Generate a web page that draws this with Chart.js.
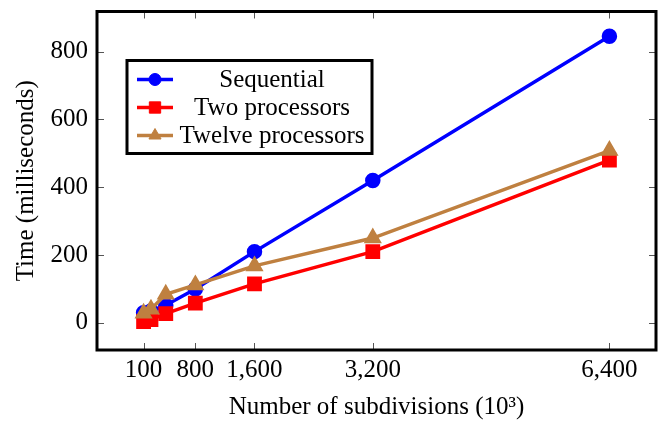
<!DOCTYPE html>
<html>
<head>
<meta charset="utf-8">
<script src="https://cdn.jsdelivr.net/npm/chart.js@4/dist/chart.umd.min.js"></script>
<style>
  html, body { margin: 0; padding: 0; background: #fff; }
</style>
</head>
<body>
<canvas id="chart" width="668" height="421"></canvas>
<script>
const subdivisions = [100, 200, 400, 800, 1600, 3200, 6400];
const sequential = [30, 35, 52, 100, 210, 420, 845];
const twoProcessors = [4, 10, 27, 58, 115, 210, 480];
const twelveProcessors = [28, 40, 84, 112, 168, 250, 508];
const xTicks = [100, 800, 1600, 3200, 6400];
const yTicks = [0, 200, 400, 600, 800];

const FONT = "'Liberation Serif', 'Times New Roman', serif";
const SIZE = 25;

function pairs(ys) {
  return subdivisions.map((x, i) => ({ x: x, y: ys[i] }));
}

// ------------------ PLUGINS ------------------
// pgfplots-style frame with small inward ticks on all four sides
const framePlugin = {
  id: "frame",
  afterDatasetsDraw(chart) {
    const { ctx, chartArea: a, scales } = chart;
    ctx.save();
    ctx.strokeStyle = "#555";
    ctx.lineWidth = 1;
    ctx.beginPath();
    yTicks.forEach(v => {
      const y = Math.round(scales.y.getPixelForValue(v)) + 0.5;
      ctx.moveTo(a.left, y); ctx.lineTo(a.left + 7, y);
      ctx.moveTo(a.right - 7, y); ctx.lineTo(a.right, y);
    });
    xTicks.forEach(v => {
      const x = Math.round(scales.x.getPixelForValue(v)) + 0.5;
      ctx.moveTo(x, a.bottom); ctx.lineTo(x, a.bottom - 7);
      ctx.moveTo(x, a.top); ctx.lineTo(x, a.top + 7);
    });
    ctx.stroke();
    ctx.strokeStyle = "#000";
    ctx.lineWidth = 3;
    ctx.strokeRect(a.left, a.top, a.right - a.left, a.bottom - a.top);
    ctx.restore();
  }
};

// legend box drawn inside the plot, top-left
const boxLegend = {
  id: "boxLegend",
  afterDraw(chart) {
    const { ctx, chartArea: a } = chart;
    const bx = a.left + 30, by = a.top + 49, bw = 245, bh = 93;
    ctx.save();
    ctx.fillStyle = "#fff";
    ctx.fillRect(bx, by, bw, bh);
    ctx.strokeStyle = "#000";
    ctx.lineWidth = 3;
    ctx.strokeRect(bx, by, bw, bh);
    chart.data.datasets.forEach((ds, i) => {
      const y = by + 19 + i * 28;
      ctx.strokeStyle = ds.borderColor;
      ctx.fillStyle = ds.borderColor;
      ctx.lineWidth = ds.borderWidth;
      ctx.beginPath();
      ctx.moveTo(bx + 10, y); ctx.lineTo(bx + 46, y);
      ctx.stroke();
      ctx.lineWidth = 1;
      Chart.helpers.drawPoint(ctx, { pointStyle: ds.pointStyle, radius: ds.pointRadius, borderWidth: 1, rotation: 0 }, bx + 28, y);
      ctx.fillStyle = "#000";
      ctx.font = SIZE + "px " + FONT;
      ctx.textAlign = "center";
      ctx.textBaseline = "middle";
      ctx.fillText(ds.label, bx + 145, y + 1);
    });
    ctx.restore();
  }
};

// ------------------ CHART ------------------
new Chart(document.getElementById("chart"), {
  type: "line",
  data: {
    datasets: [
      { label: "Sequential", data: pairs(sequential), borderColor: "#0000ff", backgroundColor: "#0000ff",
        borderWidth: 3.5, pointStyle: "circle", pointRadius: 6, order: 3 },
      { label: "Two processors", data: pairs(twoProcessors), borderColor: "#ff0000", backgroundColor: "#ff0000",
        borderWidth: 3.5, pointStyle: "rect", pointRadius: 8, order: 2 },
      { label: "Twelve processors", data: pairs(twelveProcessors), borderColor: "#bf8040", backgroundColor: "#bf8040",
        borderWidth: 3.5, pointStyle: "triangle", pointRadius: 7, order: 1 }
    ]
  },
  options: {
    responsive: false,
    animation: false,
    devicePixelRatio: 1,
    layout: { padding: { top: 11, right: 12, left: 0, bottom: 0 } },
    elements: {
      line: { tension: 0 },
      point: { borderWidth: 1, hoverRadius: 6 }
    },
    plugins: { legend: { display: false }, tooltip: { enabled: false } },
    scales: {
      x: {
        type: "linear", min: -530, max: 7030,
        afterBuildTicks: s => { s.ticks = xTicks.map(v => ({ value: v })); },
        afterFit: s => { s.height = 71; s.paddingLeft = 0; s.paddingRight = 0; },
        grid: { display: false, drawTicks: false },
        border: { display: false },
        ticks: { padding: 5, color: "#000", font: { family: FONT, size: SIZE }, maxRotation: 0,
                 callback: v => v.toLocaleString("en-US") },
        title: { display: true, text: "Number of subdivisions (10³)", color: "#000",
                 font: { family: FONT, size: SIZE, lineHeight: 1 }, padding: { top: 0, bottom: 1 } }
      },
      y: {
        min: -80, max: 918,
        afterBuildTicks: s => { s.ticks = yTicks.map(v => ({ value: v })); },
        afterFit: s => { s.width = 97; s.paddingTop = 0; s.paddingBottom = 0; },
        grid: { display: false, drawTicks: false },
        border: { display: false },
        ticks: { padding: 9, color: "#000", font: { family: FONT, size: SIZE } },
        title: { display: true, text: "Time (milliseconds)", color: "#000",
                 font: { family: FONT, size: SIZE, lineHeight: 1 }, padding: { top: 14, bottom: 0 } }
      }
    }
  },
  plugins: [framePlugin, boxLegend]
});
</script>
</body>
</html>
